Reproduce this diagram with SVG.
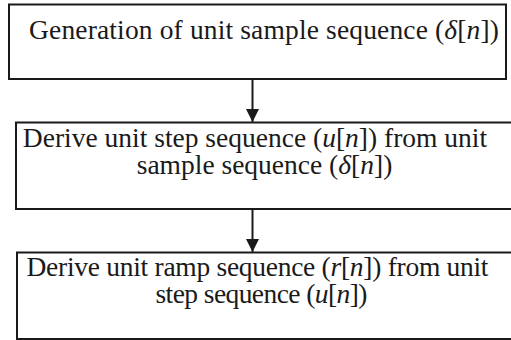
<svg xmlns="http://www.w3.org/2000/svg" width="511" height="340" viewBox="0 0 511 340">
<defs>
<style>
.box{fill:#fff;stroke:#1a1a1a;stroke-width:2}
.t{font-family:'Liberation Serif','Times New Roman',serif;font-size:27.5px;fill:#1a1a1a;text-anchor:middle}
.i{font-style:italic}
.c{stroke:#1a1a1a;stroke-width:2;fill:none}
</style>
<marker id="ah" markerWidth="13" markerHeight="13" viewBox="0 0 13 13" refX="13" refY="6.5" orient="auto" markerUnits="userSpaceOnUse">
<path d="M0,0 L13,6.5 L0,13 Z" fill="#1a1a1a"/>
</marker>
</defs>
<rect width="511" height="340" fill="#fff"/>
<g id="connectors">
<line class="c" x1="252.5" y1="79" x2="252.5" y2="122" marker-end="url(#ah)"/>
<line class="c" x1="252.5" y1="209" x2="252.5" y2="252" marker-end="url(#ah)"/>
</g>
<g id="node1">
<rect class="box" x="9" y="4.5" width="497" height="74.5"/>
<text class="t" x="264" y="39" textLength="470" lengthAdjust="spacing">Generation of unit sample sequence (<tspan class="i">δ</tspan>[<tspan class="i">n</tspan>])</text>
</g>
<g id="node2">
<rect class="box" x="16" y="122.5" width="500" height="86.5"/>
<text class="t" x="255" y="147">Derive unit step sequence (<tspan class="i">u</tspan>[<tspan class="i">n</tspan>]) from unit</text>
<text class="t" x="264.5" y="174">sample sequence (<tspan class="i">δ</tspan>[<tspan class="i">n</tspan>])</text>
</g>
<g id="node3">
<rect class="box" x="17" y="252.5" width="500" height="86.5"/>
<text class="t" x="257.5" y="276" textLength="462" lengthAdjust="spacing">Derive unit ramp sequence (<tspan class="i">r</tspan>[<tspan class="i">n</tspan>]) from unit</text>
<text class="t" x="261.5" y="303" textLength="212" lengthAdjust="spacing">step sequence (<tspan class="i">u</tspan>[<tspan class="i">n</tspan>])</text>
</g>
</svg>
